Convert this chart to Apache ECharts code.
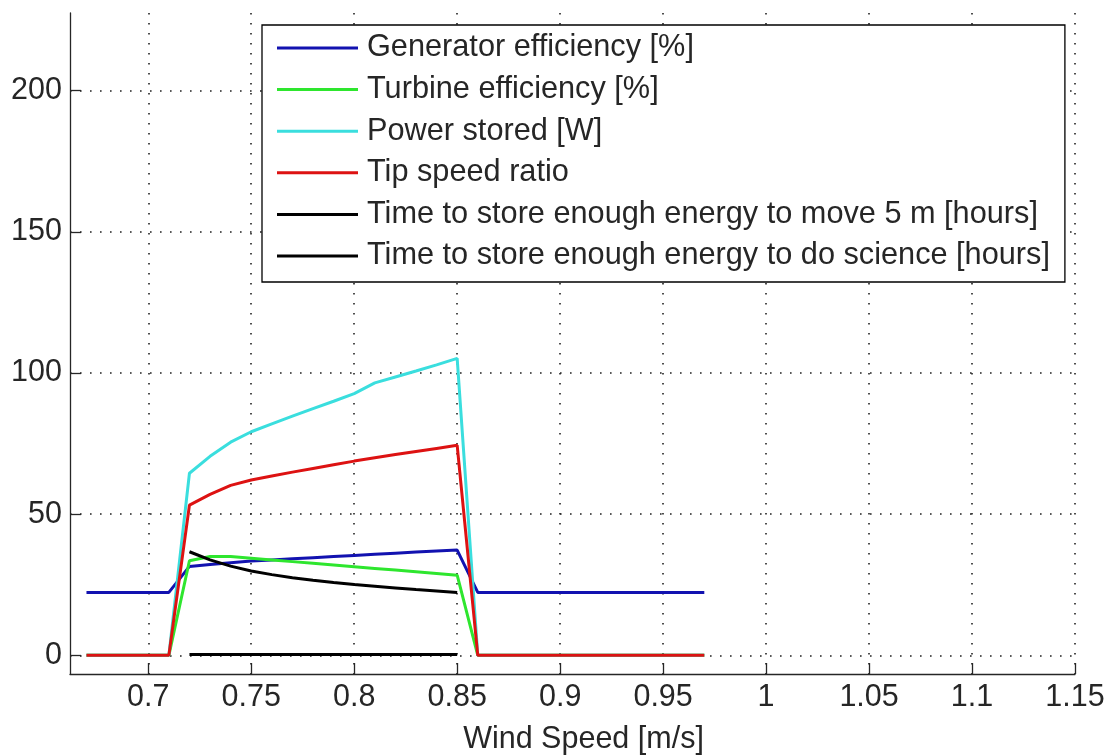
<!DOCTYPE html>
<html>
<head>
<meta charset="utf-8">
<script src="https://cdn.jsdelivr.net/npm/echarts@6/dist/echarts.min.js"></script>
<style>
html,body{margin:0;padding:0;background:#fff;}
#chart{width:1112px;height:755px;}
</style>
</head>
<body>
<div id="chart"></div>
<script>
// Wind speed [m/s]
const windSpeed = [0.67,0.68,0.69,0.70,0.71,0.72,0.73,0.74,0.75,0.76,0.77,0.78,0.79,0.80,0.81,0.82,0.83,0.84,0.85,0.86,0.87,0.88,0.89,0.90,0.91,0.92,0.93,0.94,0.95,0.96,0.97];
const generatorEff = [22.3,22.3,22.3,22.3,22.3,31.5,32.2,32.8,33.4,33.8,34.2,34.6,35.0,35.4,35.8,36.2,36.6,37.0,37.3,22.3,22.3,22.3,22.3,22.3,22.3,22.3,22.3,22.3,22.3,22.3,22.3];
const turbineEff = [0,0,0,0,0,33.5,35.0,35.0,34.4,33.8,33.2,32.6,32.0,31.4,30.8,30.2,29.6,29.0,28.4,0,0,0,0,0,0,0,0,0,0,0,0];
const powerStored = [0,0,0,0,0,64.5,70.5,75.5,79.2,82.0,84.7,87.4,90.0,92.7,96.5,98.6,100.7,102.9,105.2,0,0,0,0,0,0,0,0,0,0,0,0];
const tipSpeedRatio = [0,0,0,0,0,53.2,57.0,60.2,62.1,63.5,64.9,66.2,67.5,68.8,70.0,71.1,72.2,73.3,74.4,0,0,0,0,0,0,0,0,0,0,0,0];
const timeMove5m = [null,null,null,null,null,36.7,33.8,31.6,29.9,28.6,27.5,26.6,25.8,25.1,24.5,23.9,23.3,22.8,22.3,null,null,null,null,null,null,null,null,null,null,null,null];
const timeScience = [null,null,null,null,null,0.3,0.3,0.3,0.3,0.3,0.3,0.3,0.3,0.3,0.3,0.3,0.3,0.3,0.3,null,null,null,null,null,null,null,null,null,null,null,null];

const seriesNames = ['Generator efficiency [%]','Turbine efficiency [%]','Power stored [W]','Tip speed ratio','Time to store enough energy to move 5 m [hours]','Time to store enough energy to do science [hours]'];
const seriesValues = [generatorEff, turbineEff, powerStored, tipSpeedRatio, timeMove5m, timeScience];
const seriesColors = ['#1212b0','#2ee62e','#3adede','#dd1212','#000000','#000000'];

const xTicks = [0.7,0.75,0.8,0.85,0.9,0.95,1,1.05,1.1,1.15];
const yTicks = [0,50,100,150,200];
const xLabel = 'Wind Speed [m/s]';

const FONT = '"Liberation Sans", Arial, Helvetica, sans-serif';
const TXT = '#262626';

const chart = echarts.init(document.getElementById('chart'), null, {renderer:'canvas'});
const grid = {left:70, right:37, top:13, bottom:81, containLabel:false, outerBoundsMode:'none'};
const dotted = {color:'#222', width:1.6, type:[1.6,8.4]};

chart.setOption({
  animation:false,
  backgroundColor:'#fff',
  grid: grid,
  xAxis: {
    type:'value', min:0.662, max:1.15,
    axisLine:{show:true, onZero:false, lineStyle:{color:TXT, width:1.3}},
    axisTick:{show:true, inside:true, length:11, customValues:xTicks, lineStyle:{color:TXT, width:1.3}},
    axisLabel:{show:true, customValues:xTicks, margin:8, fontSize:30.5, fontFamily:FONT, color:TXT,
      formatter:v=>String(v)},
    splitLine:{show:true, lineStyle:dotted},
    name:xLabel, nameLocation:'middle', nameGap:50,
    nameTextStyle:{fontSize:30.5, fontFamily:FONT, color:TXT, padding:[0,0,0,22]}
  },
  yAxis: {
    type:'value', min:-6.6, max:227.5,
    axisLine:{show:true, onZero:false, lineStyle:{color:TXT, width:1.3}},
    axisTick:{show:true, inside:true, length:11, customValues:yTicks, lineStyle:{color:TXT, width:1.3}},
    axisLabel:{show:true, customValues:yTicks, margin:8, fontSize:30.5, fontFamily:FONT, color:TXT},
    splitLine:{show:true, lineStyle:dotted}
  },
  legend: {
    show:true, orient:'vertical', left:262, top:25,
    backgroundColor:'#fff', borderColor:'#000', borderWidth:1.3,
    padding:[6,15,9,15],
    icon:'rect', itemWidth:81, itemHeight:3, itemGap:7.6,
    textStyle:{fontSize:30.7, fontFamily:FONT, color:TXT, lineHeight:34, padding:[0,0,0,4]},
    data: seriesNames,
    selectedMode:false
  },
  series: seriesNames.map((name,i)=>({
    name:name, type:'line', symbol:'none', showSymbol:false,
    color:seriesColors[i],
    lineStyle:{width:3, color:seriesColors[i]},
    data: windSpeed.map((x,j)=>[x, seriesValues[i][j]]),
    connectNulls:false, z:2+i
  }))
});
</script>
</body>
</html>
